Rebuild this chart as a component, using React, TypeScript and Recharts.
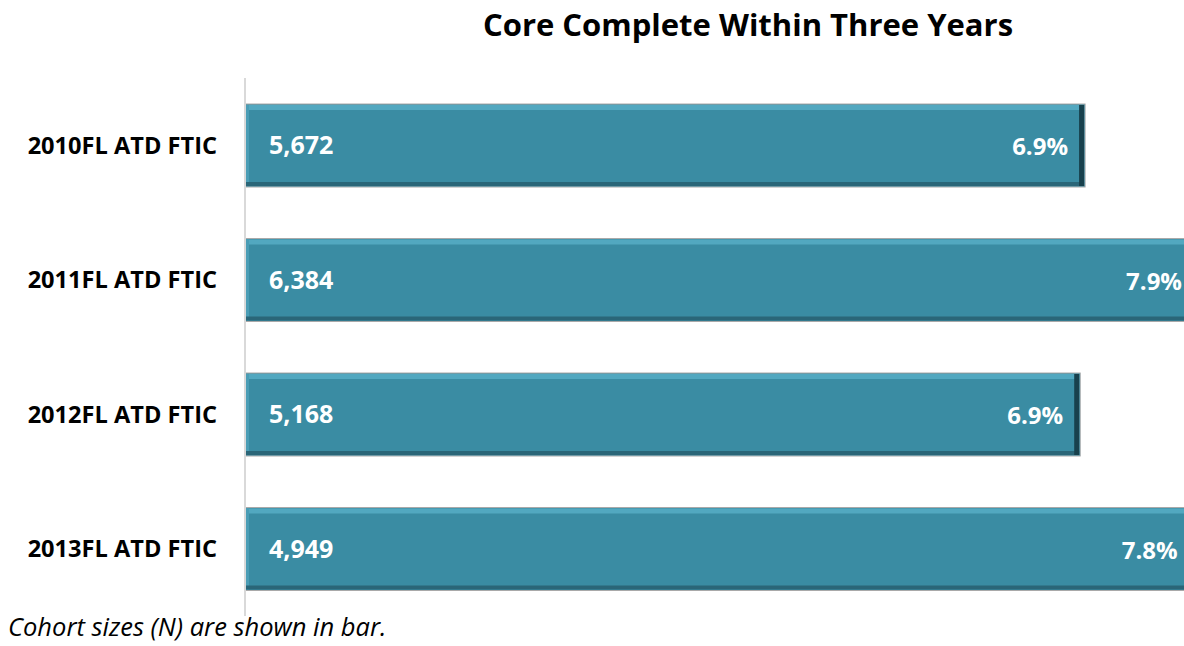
import React from 'react';
import { BarChart, Bar, XAxis, YAxis, LabelList } from 'recharts';

const COHORTS = ['2010FL ATD FTIC', '2011FL ATD FTIC', '2012FL ATD FTIC', '2013FL ATD FTIC'];
const PCT = [6.9, 7.9, 6.86, 7.8];
const COHORT_N = [5672, 6384, 5168, 4949];

const FONT = "'Open Sans', 'Liberation Sans', sans-serif";
const VISIBLE_RIGHT = 1182;

const data = COHORTS.map((cohort, i) => ({ cohort, pct: PCT[i], n: COHORT_N[i] }));

// bevelled bar, like the old office 3d style
const BevelBar = (props: any) => {
  const { x, y, width, height } = props;
  if (!width || !height) return null;
  return (
    <g>
      <rect x={x} y={y} width={width} height={height} fill="#3a8ca3" stroke="#a9a9a9" strokeWidth={1} />
      <rect x={x + 1} y={y + 1} width={width - 2} height={5} fill="#52a8c0" />
      <rect x={x + 1} y={y + 1} width={3} height={height - 2} fill="#4a9db5" />
      <rect x={x + 1} y={y + height - 5} width={width - 2} height={4} fill="#2a6678" />
      <rect x={x + width - 6} y={y + 1} width={5} height={height - 2} fill="#18414d" />
    </g>
  );
};

// percent label near the bar end, kept inside the visible frame
const PctLabel = (props: any) => {
  const { x, y, width, height, value } = props;
  const right = Math.min(x + width - 17, VISIBLE_RIGHT);
  return (
    <text
      x={right}
      y={y + height / 2}
      textAnchor="end"
      dominantBaseline="central"
      style={{ fill: '#fff', fontSize: 24, fontWeight: 700, fontFamily: FONT }}
    >
      {`${Number(value).toFixed(1)}%`}
    </text>
  );
};

const App: React.FC = () => {
  return (
    <div
      style={{
        position: 'absolute',
        left: 0,
        top: 0,
        width: 1184,
        height: 646,
        overflow: 'hidden',
        background: '#fff',
        fontFamily: FONT,
      }}
    >
      <div
        style={{
          position: 'absolute',
          left: 748 - 300,
          width: 600,
          top: 3,
          textAlign: 'center',
          fontSize: 31,
          fontWeight: 700,
          color: '#000',
        }}
      >
        Core Complete Within Three Years
      </div>
      <BarChart
        width={1219}
        height={646}
        data={data}
        layout="vertical"
        margin={{ top: 78, right: 0, bottom: 30, left: 0 }}
        style={{ position: 'absolute', left: 0, top: 0 }}
      >
        <XAxis type="number" domain={[0, 8]} hide />
        <YAxis
          type="category"
          dataKey="cohort"
          width={245}
          axisLine={{ stroke: '#d9d9d9', strokeWidth: 2 }}
          tickLine={false}
          tickSize={0}
          tickMargin={28}
          tick={{ fill: '#000', fontSize: 23.6, fontWeight: 700, fontFamily: FONT }}
        />
        <Bar dataKey="pct" barSize={83} shape={BevelBar} isAnimationActive={false}>
          <LabelList
            dataKey="n"
            position="insideLeft"
            offset={24}
            formatter={(v: any) => Number(v).toLocaleString('en-US')}
            style={{ fill: '#fff', fontSize: 25, fontWeight: 700, fontFamily: FONT }}
          />
          <LabelList dataKey="pct" content={PctLabel} />
        </Bar>
      </BarChart>
      <div
        style={{
          position: 'absolute',
          left: 8,
          top: 613,
          fontSize: 25.5,
          lineHeight: '26px',
          fontStyle: 'italic',
          color: '#000',
        }}
      >
        Cohort sizes (N) are shown in bar.
      </div>
    </div>
  );
};

export default App;
